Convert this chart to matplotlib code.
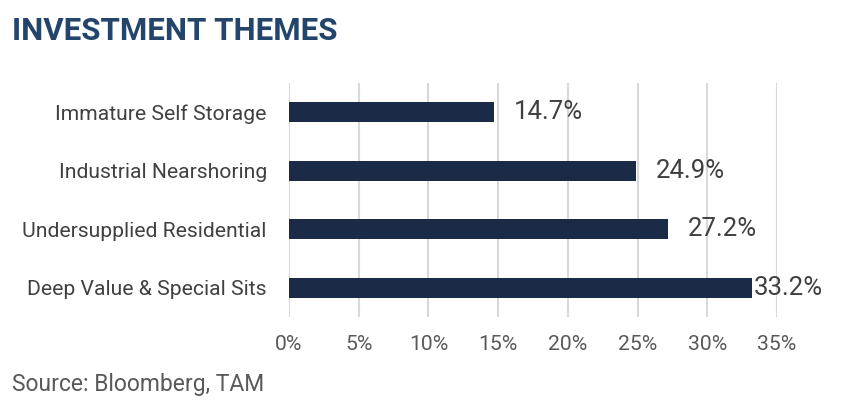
import matplotlib.pyplot as plt
from matplotlib.ticker import FuncFormatter

themes = ["Immature Self Storage", "Industrial Nearshoring",
          "Undersupplied Residential", "Deep Value & Special Sits"]
values = [14.7, 24.9, 27.2, 33.2]
xticks = [0, 5, 10, 15, 20, 25, 30, 35]

navy = "#1b2a47"
plt.rcParams['font.family'] = ['Roboto', 'DejaVu Sans']

fig = plt.figure(figsize=(8.62, 4.18), dpi=100)
ax = fig.add_axes([0.3353, 0.2416, 0.5661, 0.5598])

ypos = range(len(themes))
ax.barh(ypos, values, height=0.34, color=navy, zorder=3)
ax.set_ylim(len(themes) - 0.5, -0.5)
ax.set_xlim(0, 35)
ax.set_yticks(list(ypos))
ax.set_yticklabels(themes, fontsize=15.2, color="#404040")
ax.set_xticks(xticks)
ax.xaxis.set_major_formatter(FuncFormatter(lambda v, p: f"{v:.0f}%"))
ax.tick_params(axis='x', labelsize=15.2, labelcolor="#595959", length=0, pad=13)
ax.tick_params(axis='y', length=0, pad=16)
ax.grid(axis='x', color="#d9d9d9", linewidth=1.5, zorder=0)
for s in ax.spines.values():
    s.set_visible(False)

for i, v in enumerate(values):
    off = 14 if v < 30 else 1.5
    ax.annotate(f"{v:.1f}%", (v, i), xytext=(off, 0), textcoords='offset points',
                va='center', ha='left', fontsize=18.5, color="#404040")

fig.text(0.014, 0.905, "INVESTMENT THEMES", fontsize=22.5, fontweight='bold',
         color="#23446b", va='baseline', ha='left')
fig.text(0.014, 0.065, "Source: Bloomberg, TAM", fontsize=16.5, color="#595959",
         va='baseline', ha='left')

fig.savefig("out.png", dpi=100)
